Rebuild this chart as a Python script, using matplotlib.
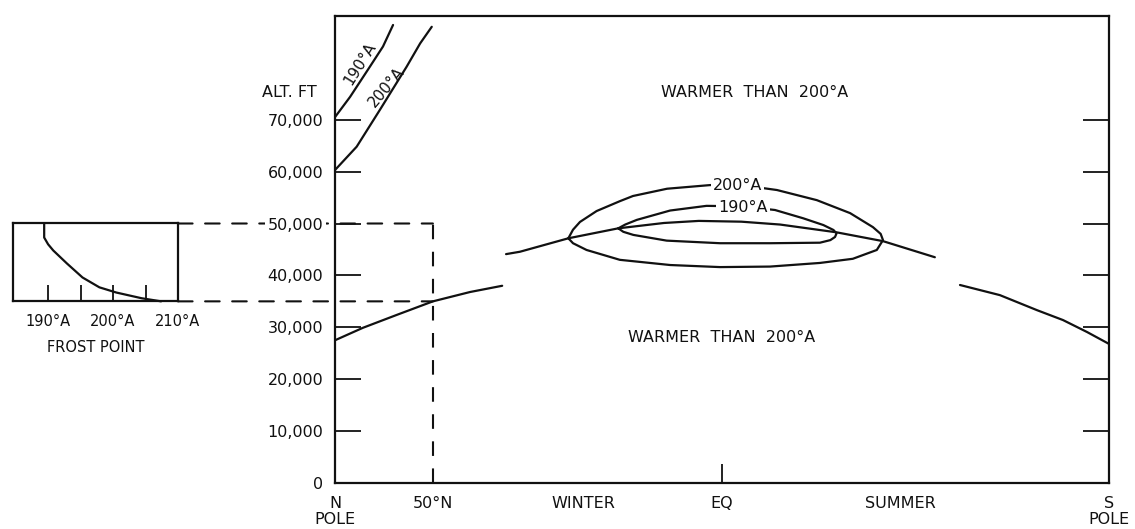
import numpy as np
import matplotlib
matplotlib.use("Agg")
import matplotlib.pyplot as plt
from matplotlib.patches import ConnectionPatch

# x is sine of latitude: -1 = N pole, 0 = equator, +1 = S pole
x_ticks = [-1.0, -0.747, -0.357, 0.0, 0.46, 1.0]
x_labels = ["N\nPOLE", "50°N", "WINTER", "EQ", "SUMMER", "S\nPOLE"]
y_ticks = [0, 10000, 20000, 30000, 40000, 50000, 60000, 70000]
y_labels = ["0", "10,000", "20,000", "30,000", "40,000", "50,000", "60,000", "70,000"]

# tropopause, three pieces
trop_n_x = [-1.0, -0.928, -0.840, -0.747, -0.651, -0.568]
trop_n_y = [27500, 29900, 32400, 35000, 36800, 38000]
trop_m_x = [-0.558, -0.522, -0.397, -0.268, -0.15, -0.06, 0.05, 0.15, 0.296, 0.416, 0.550]
trop_m_y = [44100, 44560, 47150, 49070, 50100, 50500, 50350, 49800, 48300, 46600, 43500]
trop_s_x = [0.615, 0.718, 0.814, 0.881, 0.943, 1.0]
trop_s_y = [38150, 36200, 33300, 31400, 29100, 26800]

# 200°A and 190°A closed contours near the equator
c200_x = [-0.397, -0.385, -0.367, -0.324, -0.264, -0.230, -0.142, -0.031, 0.04, 0.142, 0.245,
          0.331, 0.390, 0.410, 0.416, 0.400, 0.338, 0.253, 0.124, -0.005, -0.134, -0.264,
          -0.350, -0.385, -0.397]
c200_y = [47150, 48800, 50300, 52400, 54300, 55300, 56700, 57400, 57500, 56450, 54500,
          52000, 49300, 48000, 46800, 44900, 43200, 42400, 41700, 41600, 42000, 43000,
          44900, 46200, 47150]
c190_x = [-0.268, -0.250, -0.220, -0.134, -0.040, 0.054, 0.137, 0.210, 0.262, 0.288, 0.296,
          0.292, 0.280, 0.253, 0.124, -0.005, -0.143, -0.229, -0.255, -0.268]
c190_y = [49070, 49800, 50700, 52500, 53400, 53300, 52600, 51000, 49700, 48750, 48100,
          47400, 46800, 46300, 46200, 46200, 46700, 47800, 48400, 49070]

# polar contours, upper left
p190_x = [-1.0, -0.961, -0.910, -0.876, -0.850]
p190_y = [70500, 74400, 80200, 84100, 88250]
p200_x = [-1.0, -0.944, -0.884, -0.815, -0.780, -0.750]
p200_y = [60300, 64800, 71900, 80200, 84700, 87900]

# frost point profile at 50°N
fp_temp = [189.4, 189.4, 190.0, 190.8, 192.9, 195.3, 197.9, 200.5, 204.4, 207.4]
fp_alt = [50000, 47300, 46000, 44800, 42300, 39600, 37700, 36700, 35600, 35000]
fp_ticks = [190, 195, 200, 205, 210]
fp_labels = ["190°A", "", "200°A", "", "210°A"]

plt.rcParams["font.family"] = "DejaVu Sans"
ink = "#111111"
lw = 1.6

fig = plt.figure(figsize=(11.35, 5.29), dpi=100)
fig.patch.set_facecolor("white")
ax_b, ax_h = 46 / 529, 467.1 / 529
ax = fig.add_axes([335 / 1135, ax_b, 774 / 1135, ax_h])
ax.patch.set_alpha(0)
ax.set_xlim(-1, 1)
ax.set_ylim(0, 90000)

for sp in ax.spines.values():
    sp.set_linewidth(1.6)
    sp.set_color(ink)

ax.set_yticks(y_ticks, y_labels, fontsize=11.5)
ax.tick_params(axis="y", direction="in", length=19, width=1.3, pad=8.5,
               right=True, colors=ink)
for t in ax.get_yticklabels():
    t.set_bbox(dict(facecolor="white", edgecolor="none", pad=2))
ax.set_xticks(x_ticks, x_labels, fontsize=11.5, linespacing=1.15)
ax.tick_params(axis="x", direction="in", length=14, width=1.3, pad=9, colors=ink)
for i, t in enumerate(ax.xaxis.get_major_ticks()):
    t.tick1line.set_visible(x_labels[i] == "EQ")
for t in ax.get_xticklabels():
    t.set_va("top")

ax.annotate("ALT. FT", xy=(0, 75300), xycoords=ax.get_yaxis_transform(),
            xytext=(-13.5, 0), textcoords="offset points",
            ha="right", va="center", fontsize=11.5, color=ink)

for xs, ys in [(trop_n_x, trop_n_y), (trop_m_x, trop_m_y), (trop_s_x, trop_s_y),
               (c200_x, c200_y), (c190_x, c190_y), (p190_x, p190_y), (p200_x, p200_y)]:
    ax.plot(xs, ys, color=ink, lw=lw, solid_joinstyle="round", solid_capstyle="round")

box = dict(facecolor="white", edgecolor="none", pad=1.5)
ax.text(0.04, 57300, "200°A", ha="center", va="center", fontsize=11.5, color=ink, bbox=box)
ax.text(0.054, 53100, "190°A", ha="center", va="center", fontsize=11.5, color=ink, bbox=box)
ax.text(-0.935, 80800, "190°A", ha="center", va="center", fontsize=11, rotation=58, color=ink)
ax.text(-0.866, 76200, "200°A", ha="center", va="center", fontsize=11, rotation=50, color=ink)

ax.text(0.085, 75300, "WARMER  THAN  200°A", ha="center", va="center", fontsize=11.5, color=ink)
ax.text(0.0, 28100, "WARMER  THAN  200°A", ha="center", va="center", fontsize=11.5, color=ink)

dash = (0, (7, 6))
x50 = x_ticks[1]
ax.plot([x50, x50], [0, 50000], color=ink, lw=1.5, ls=dash)

# frost point inset, same altitude scale as the main axes
axin = fig.add_axes([13 / 1135, ax_b + 35000 / 90000 * ax_h,
                     165 / 1135, 15000 / 90000 * ax_h])
axin.set_xlim(184.6, 210)
axin.set_ylim(35000, 50000)
axin.plot(fp_temp, fp_alt, color=ink, lw=lw, solid_capstyle="round",
          solid_joinstyle="round", clip_on=False)
for sp in axin.spines.values():
    sp.set_linewidth(1.6)
    sp.set_color(ink)
axin.set_yticks([])
axin.set_xticks(fp_ticks, fp_labels, fontsize=10.5)
axin.tick_params(axis="x", direction="in", length=11.5, width=1.3, pad=9, colors=ink)
axin.set_xlabel("FROST POINT", fontsize=10.5, labelpad=8, color=ink)

# leader lines from the inset to 50°N, drawn under the axes
for alt in (50000, 35000):
    con = ConnectionPatch(xyA=(210, alt), coordsA=axin.transData,
                          xyB=(x50, alt), coordsB=ax.transData,
                          color=ink, lw=1.5, ls=dash, zorder=-1)
    fig.add_artist(con)

fig.savefig("out.png", dpi=100, facecolor="white")
